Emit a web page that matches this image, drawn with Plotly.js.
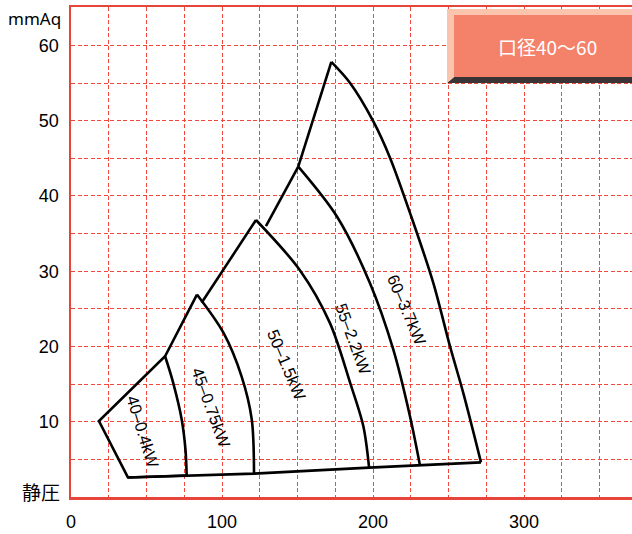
<!DOCTYPE html>
<html>
<head>
<meta charset="utf-8">
<script src="https://cdn.plot.ly/plotly-3.0.1.min.js"></script>
<style>html,body{margin:0;padding:0;background:#fff;}#chart{width:632px;height:534px;}</style>
</head>
<body>
<div id="chart"></div>
<script>
// Fan curves: airflow (x) vs static pressure mmAq (y)
const curve40x = [62.3, 67.5, 73.3, 75.8, 76.6];
const curve40y = [18.7, 15.3, 10.3, 6.3, 2.85];
const curve45x = [83.4, 101.0, 113.0, 119.7, 121.2];
const curve45y = [26.9, 21.8, 16.0, 10.3, 3.1];
const curve50x = [122.5, 151.7, 171.5, 184.8, 193.6, 197.4];
const curve50y = [36.8, 30.1, 23.1, 15.2, 9.4, 3.9];
const curve55x = [150.5, 176.0, 198.0, 213.4, 224.5, 231.1];
const curve55y = [43.9, 37.3, 28.4, 19.6, 10.7, 4.2];
const curve60x = [172.4, 184.8, 200.2, 211.3, 225.6, 239.9, 251.0, 259.8, 271.5];
const curve60y = [57.8, 55.0, 49.9, 45.05, 37.1, 28.45, 20.0, 13.8, 4.6];
// Envelope lines
const leftEdgeX = [76.6, 37.7, 18.5, 62.3, 83.4];
const leftEdgeY = [2.85, 2.6, 10.1, 18.7, 26.9];
const bottomX = [37.7, 76.6, 121.2, 197.4, 231.1, 271.5];
const bottomY = [2.6, 2.85, 3.1, 3.9, 4.2, 4.6];
const link45to50x = [86.5, 122.5];
const link45to50y = [25.8, 36.8];
const link50to55x = [129.1, 150.5];
const link50to55y = [36.0, 43.9];
const link55to60x = [150.5, 172.4];
const link55to60y = [43.9, 57.8];
// Curve labels
const labelText = ['40–0.4kW', '45–0.75kW', '50–1.5kW', '55–2.2kW', '60–3.7kW'];
const labelX = [47.9, 92.5, 142.8, 187.0, 222.3];
const labelY = [8.7, 11.9, 17.5, 21.0, 24.8];
const labelAngle = [73, 70, 67, 70, 67];
// Axis ticks
const xTicks = [0, 100, 200, 300];
const yTicks = [10, 20, 30, 40, 50, 60];
const yUnit = 'mmAq';
const yName = '静圧';
const legendText = '口径40〜60';

const FONT = '"Liberation Sans", "Noto Sans CJK JP", sans-serif';
const CJK = '"Noto Sans CJK JP", sans-serif';
const lineStyle = {color: '#000', width: 2.6};

function tr(x, y, spline) {
  return {x: x, y: y, type: 'scatter', mode: 'lines', hoverinfo: 'skip', showlegend: false,
    line: Object.assign({}, lineStyle, spline ? {shape: 'spline', smoothing: 0.9} : {})};
}

const data = [
  tr(curve40x, curve40y, true), tr(curve45x, curve45y, true), tr(curve50x, curve50y, true),
  tr(curve55x, curve55y, true), tr(curve60x, curve60y, true),
  tr(leftEdgeX, leftEdgeY, false), tr(bottomX, bottomY, false),
  tr(link45to50x, link45to50y, false), tr(link50to55x, link50to55y, false), tr(link55to60x, link55to60y, false)
];

function px2x(p) { return (p - 71) / 561; }
function py2y(p) { return (497 - p) / 490; }

const annotations = labelText.map((t, i) => ({
  x: labelX[i], y: labelY[i], xref: 'x', yref: 'y', text: t, showarrow: false,
  xanchor: 'center', yanchor: 'middle',
  textangle: labelAngle[i], font: {family: FONT, size: 16.5, color: '#000'}
}));
annotations.push({x: px2x(35), y: py2y(18), xref: 'paper', yref: 'paper', xanchor: 'center', yanchor: 'middle',
  text: yUnit, showarrow: false, font: {family: '"Noto Sans", sans-serif', size: 17, color: '#000'}});
annotations.push({x: px2x(62), y: py2y(491), xref: 'paper', yref: 'paper', xanchor: 'right', yanchor: 'middle',
  text: yName, showarrow: false, font: {family: CJK, size: 19, color: '#000'}});
annotations.push({x: px2x(547), y: py2y(47), xref: 'paper', yref: 'paper', xanchor: 'center', yanchor: 'middle',
  text: legendText, showarrow: false, font: {family: CJK, size: 19, color: '#fff'}});

const shapes = [
  {type: 'path', xref: 'paper', yref: 'paper', layer: 'above',
   path: `M ${px2x(447)} ${py2y(83)} L ${px2x(454)} ${py2y(77)} L ${px2x(640)} ${py2y(77)} L ${px2x(640)} ${py2y(83)} Z`,
   fillcolor: '#3a3436', line: {width: 0}},
  {type: 'path', xref: 'paper', yref: 'paper', layer: 'above',
   path: `M ${px2x(447)} ${py2y(9)} L ${px2x(640)} ${py2y(9)} L ${px2x(640)} ${py2y(15)} L ${px2x(454)} ${py2y(15)} L ${px2x(454)} ${py2y(77)} L ${px2x(447)} ${py2y(83)} Z`,
   fillcolor: '#fbc4ac', line: {width: 0}},
  {type: 'rect', xref: 'paper', yref: 'paper', layer: 'above',
   x0: px2x(454), x1: px2x(640), y0: py2y(77), y1: py2y(15),
   fillcolor: '#f4826a', line: {width: 0}}
];

const gridColor = '#f2473c';
const dash = '4px,2.5px';
const layout = {
  width: 632, height: 534,
  margin: {l: 71, r: 0, t: 7, b: 37},
  paper_bgcolor: '#fff', plot_bgcolor: '#fff',
  showlegend: false,
  xaxis: {range: [0, 371.5], tickvals: xTicks, ticks: '', showgrid: true, gridcolor: gridColor, gridwidth: 1,
    griddash: dash, zeroline: false, showline: true, linecolor: '#e8453a', linewidth: 2.5, mirror: true,
    tickfont: {family: FONT, size: 18, color: '#000'}, ticklabelstandoff: 7,
    minor: {dtick: 25, tick0: 0, showgrid: true, gridcolor: gridColor, gridwidth: 1, griddash: dash, ticks: ''}},
  yaxis: {range: [0, 65.1], tickvals: yTicks, ticks: '', showgrid: true, gridcolor: gridColor, gridwidth: 1,
    griddash: dash, zeroline: false, showline: true, linecolor: '#e8453a', linewidth: 2.5,
    tickfont: {family: FONT, size: 18, color: '#000'}, ticklabelstandoff: 6,
    minor: {dtick: 5, tick0: 0, showgrid: true, gridcolor: gridColor, gridwidth: 1, griddash: dash, ticks: ''}},
  annotations: annotations,
  shapes: shapes
};

Plotly.newPlot('chart', data, layout, {displayModeBar: false, staticPlot: true});
</script>
</body>
</html>
